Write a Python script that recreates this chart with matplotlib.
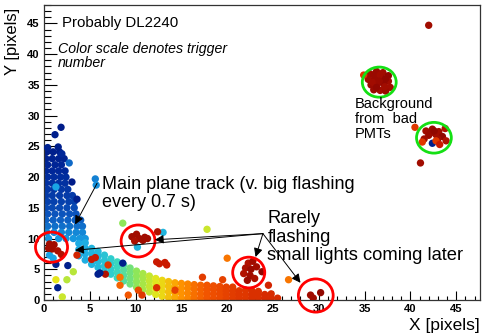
import matplotlib
matplotlib.use("Agg")
import matplotlib.pyplot as plt
from matplotlib.patches import Ellipse
from matplotlib.ticker import MultipleLocator
from matplotlib.colors import LinearSegmentedColormap

plt.rcParams["font.family"] = ["Liberation Sans", "DejaVu Sans"]

# colour value = trigger number scaled to 0..1 (ROOT-like rainbow palette)
palette = ["#000c70", "#00289a", "#0d5ac0", "#19a6e6", "#33d6c8", "#8ce65a",
           "#e6e619", "#ff9900", "#f25500", "#cc1a00", "#7a0000"]

# vertical part of the main track, read row by row
band_row_y = [24.1, 23.0, 22.0, 21.0, 20.0, 19.0, 18.0, 17.0, 16.0, 15.0, 14.0, 13.0, 12.0, 11.0, 10.0]
band_row_x = [
    [0.3, 1.0, 1.7],
    [0.2, 0.9, 1.6, 2.2],
    [0.4, 1.2, 1.9],
    [0.2, 0.9, 1.6, 2.3],
    [0.4, 1.1, 1.8, 2.4],
    [0.2, 0.9, 1.6, 2.3],
    [0.4, 1.1, 1.9, 2.6],
    [0.2, 0.9, 1.7, 2.5, 3.1],
    [0.4, 1.1, 1.9, 2.7, 3.3],
    [0.2, 0.9, 1.7, 2.5, 3.3],
    [0.4, 1.2, 2.0, 2.8, 3.5],
    [0.2, 1.0, 1.8, 2.6, 3.4, 4.0],
    [0.4, 1.2, 2.0, 2.8, 3.6, 4.2],
    [0.3, 1.1, 1.9, 2.7, 3.5, 4.2],
    [0.5, 1.6, 2.4, 3.2, 3.9, 4.5],
]
band_row_c = [0.07, 0.08, 0.09, 0.10, 0.11, 0.12, 0.13, 0.14, 0.15, 0.17, 0.19, 0.21, 0.23, 0.26, 0.28]

# curved part of the main track, read column by column
track_col_x = [3.8, 4.5, 5.2, 5.9, 6.6, 7.3, 8.0, 8.7, 9.4, 10.1, 10.8, 11.5, 12.2, 12.9, 13.6, 14.3,
               15.0, 15.7, 16.4, 17.1, 17.8, 18.5, 19.2, 19.9, 20.6, 21.3, 22.0, 22.7, 23.4, 24.1, 24.8, 25.5]
track_col_y = [
    [9.2, 8.2, 7.2],
    [9.3, 8.4, 7.5, 6.5],
    [8.4, 7.6, 6.7, 5.8],
    [7.9, 7.1, 6.2, 5.3],
    [7.3, 6.4, 5.5, 4.6],
    [6.7, 5.9, 5.0, 4.2],
    [6.2, 5.4, 4.5, 3.6],
    [5.7, 4.9, 4.0, 3.1],
    [5.2, 4.4, 3.5, 2.6],
    [4.7, 3.9, 3.0, 2.1],
    [4.3, 3.5, 2.6, 1.7],
    [3.9, 3.1, 2.2, 1.3],
    [3.5, 2.7, 1.8, 0.9],
    [3.2, 2.4, 1.5, 0.6],
    [3.0, 2.2, 1.3, 0.4],
    [2.8, 2.0, 1.2, 0.4],
    [2.7, 1.9, 1.1, 0.3],
    [2.6, 1.9, 1.1, 0.3],
    [2.5, 1.8, 1.0, 0.3],
    [2.4, 1.7, 1.0, 0.3],
    [2.4, 1.7, 1.0, 0.3],
    [2.3, 1.7, 1.0, 0.3],
    [2.2, 1.6, 1.0, 0.3],
    [2.1, 1.5, 0.9, 0.3],
    [2.1, 1.5, 0.9, 0.3],
    [1.5, 0.9, 0.3],
    [1.6, 0.9, 0.3],
    [1.5, 0.9, 0.3],
    [1.4, 0.9, 0.3],
    [0.9, 0.3],
    [1.0, 0.3],
    [0.3],
]
track_col_c = [0.31, 0.32, 0.33, 0.34, 0.36, 0.38, 0.41, 0.44, 0.47, 0.50, 0.53, 0.56, 0.59, 0.62, 0.65, 0.68,
               0.71, 0.73, 0.76, 0.78, 0.80, 0.81, 0.82, 0.83, 0.84, 0.85, 0.85, 0.86, 0.86, 0.87, 0.87, 0.87]

# isolated hits around the track
stray_x = [1.86, 1.2, 0.4, 1.55, 1.95, 2.75, 3.05, 3.6, 5.6, 5.7, 1.3,
           8.6, 17.8, 13.0, 12.4, 1.0, 0.6, 1.3, 2.6, 3.2, 1.3, 1.5, 2.0, 2.5,
           3.6, 5.2, 5.6, 5.9, 6.7, 7.0, 8.6, 8.3, 8.3, 6.1, 10.2,
           12.3, 12.6, 13.2, 13.4, 12.3, 14.3, 17.3, 19.5, 20.0, 24.5, 26.7, 9.2, 10.3, 10.7]
stray_y = [28.1, 26.9, 24.8, 24.9, 23.8, 22.3, 19.2, 16.4, 19.7, 18.7, 18.4,
           12.5, 11.5, 11.0, 11.1, 6.8, 7.3, 5.8, 5.6, 4.6, 3.3, 2.0, 0.5, 3.3,
           7.3, 6.6, 6.9, 4.2, 4.2, 5.7, 6.0, 3.7, 2.4, 4.4, 8.6,
           6.2, 5.9, 6.1, 5.7, 2.0, 1.6, 3.7, 3.3, 6.8, 2.4, 3.3, 0.8, 1.6, 0.8]
stray_c = [0.06, 0.07, 0.08, 0.07, 0.10, 0.22, 0.06, 0.07, 0.25, 0.27, 0.30,
           0.50, 0.57, 0.33, 0.93, 0.30, 0.30, 0.07, 0.07, 0.55, 0.60, 0.07, 0.57, 0.55,
           0.88, 0.90, 0.90, 0.07, 0.93, 0.85, 0.07, 0.75, 0.78, 0.07, 0.33,
           0.90, 0.90, 0.90, 0.90, 0.86, 0.83, 0.84, 0.83, 0.75, 0.88, 0.75, 0.80, 0.82, 0.85]

# late small flashes (red circles)
flash_x = [0.6, 1.1, 0.9, 1.5, 1.9, 0.5,
           9.6, 10.1, 10.4, 11.0, 10.8, 9.9, 11.3,
           22.3, 22.8, 22.0, 22.6, 23.2, 21.8, 22.5, 23.0, 22.2, 23.8,
           29.1, 30.2, 29.4]
flash_y = [9.1, 9.0, 8.3, 8.0, 7.4, 8.4,
           10.3, 10.7, 10.0, 10.2, 9.7, 9.6, 10.0,
           6.0, 6.3, 5.2, 5.0, 5.4, 4.3, 4.0, 3.5, 3.2, 4.6,
           0.8, 1.2, 0.3]
flash_c = [0.95, 0.95, 0.95, 0.94, 0.93, 0.95,
           0.95, 0.95, 0.95, 0.95, 0.95, 0.94, 0.95,
           0.93, 0.95, 0.94, 0.96, 0.95, 0.93, 0.95, 0.94, 0.96, 0.97,
           0.95, 0.97, 0.95]

# background from bad PMTs (green circles)
bg_x = [35.6, 36.3, 37.0, 37.6, 35.4, 36.1, 36.8, 37.6, 35.7, 36.4, 37.1, 37.8, 36.0, 36.7, 37.3, 34.9,
        36.0, 36.7, 37.3, 35.9, 36.6, 37.2, 36.3,
        42.0, 41.7, 42.4, 43.1, 43.8, 42.0, 42.8, 43.5, 41.5, 43.9, 42.2, 43.0, 42.6,
        42.4, 42.8, 43.2, 41.3, 40.5, 41.1]
bg_y = [36.8, 37.2, 37.0, 36.5, 35.9, 36.0, 36.2, 35.6, 35.0, 35.1, 35.2, 34.6, 34.2, 34.1, 34.0, 36.6,
        36.6, 36.6, 36.0, 35.4, 35.6, 34.7, 34.6,
        44.7, 27.5, 27.8, 27.4, 27.9, 26.8, 26.9, 26.6, 26.2, 25.9, 27.2, 26.2, 27.5,
        25.5, 25.9, 25.3, 25.7, 28.1, 22.3]
bg_c = [0.95, 0.96, 0.95, 0.97, 0.95, 0.96, 0.97, 0.95, 0.96, 0.95, 0.97, 0.95, 0.96, 0.95, 0.96, 0.85,
        0.96, 0.95, 0.97, 0.95, 0.96, 0.95, 0.97,
        0.95, 0.95, 0.96, 0.95, 0.93, 0.96, 0.95, 0.97, 0.95, 0.93, 0.96, 0.95, 0.97,
        0.07, 0.85, 0.90, 0.85, 0.85, 0.95]

# expand row / column readings into point lists
track_x, track_y, track_c = [], [], []
for yy, xs, cc in zip(band_row_y, band_row_x, band_row_c):
    for xx in xs:
        track_x.append(xx)
        track_y.append(yy)
        track_c.append(cc)
for xx, ys, cc in zip(track_col_x, track_col_y, track_col_c):
    for yy in ys:
        track_x.append(xx)
        track_y.append(yy)
        track_c.append(cc)

cmap = LinearSegmentedColormap.from_list("rootrainbow", palette)

fig = plt.figure(figsize=(4.88, 3.33), dpi=100)
ax = fig.add_axes([44 / 488, 33 / 333, 436 / 488, 295 / 333])

kw = dict(s=28, cmap=cmap, vmin=0, vmax=1, edgecolors="none")
ax.scatter(track_x, track_y, c=track_c, **kw, zorder=2)
ax.scatter(stray_x, stray_y, c=stray_c, **kw, zorder=3)
ax.scatter(flash_x, flash_y, c=flash_c, **kw, zorder=3)
ax.scatter(bg_x, bg_y, c=bg_c, **kw, zorder=3)

ax.set_xlim(0, 47.6)
ax.set_ylim(0, 48)
ax.xaxis.set_major_locator(MultipleLocator(5))
ax.xaxis.set_minor_locator(MultipleLocator(1))
ax.yaxis.set_major_locator(MultipleLocator(5))
ax.yaxis.set_minor_locator(MultipleLocator(1))
ax.tick_params(axis="x", which="major", direction="in", length=6.5, width=0.8, pad=3, labelsize=8)
ax.tick_params(axis="x", which="minor", direction="in", length=3.2, width=0.8)
ax.tick_params(axis="y", which="major", direction="in", length=9.4, width=0.8, pad=3, labelsize=8)
ax.tick_params(axis="y", which="minor", direction="in", length=4.7, width=0.8)
for lab in ax.get_xticklabels() + ax.get_yticklabels():
    lab.set_fontweight("bold")
for sp in ax.spines.values():
    sp.set_linewidth(0.9)
    sp.set_color("#333333")

# circles around the features
for cx, cy, w, h in [(0.82, 8.6, 3.5, 4.9), (10.27, 9.6, 3.7, 5.2), (22.35, 4.47, 3.5, 5.0), (29.67, 0.73, 3.8, 5.4)]:
    ax.add_patch(Ellipse((cx, cy), w, h, fill=False, ec="red", lw=2, clip_on=False, zorder=5))
for cx, cy, w, h in [(36.6, 35.45, 3.7, 4.9), (42.57, 26.4, 3.8, 5.0)]:
    ax.add_patch(Ellipse((cx, cy), w, h, fill=False, ec="#14e014", lw=2, clip_on=False, zorder=5))

arrow = dict(arrowstyle="-|>", color="black", lw=0.7, shrinkA=0, shrinkB=0, mutation_scale=13)
ax.annotate("", xy=(3.4, 12.3), xytext=(5.8, 19.0), arrowprops=arrow, zorder=6)
for tip in [(3.4, 8.1), (12.1, 9.8), (23.1, 7.0), (28.0, 2.8)]:
    ax.annotate("", xy=tip, xytext=(23.9, 10.8), arrowprops=arrow, zorder=6)

# multi-line texts are placed by the baseline of their last line
ax.text(2.0, 44.4, "Probably DL2240", fontsize=10.8, va="baseline", zorder=7)
ax.text(1.53, 37.9, "Color scale denotes trigger\nnumber", fontsize=10.2, style="italic",
        va="baseline", linespacing=1.05, zorder=7)
ax.text(6.34, 15.1, "Main plane track (v. big flashing\nevery 0.7 s)", fontsize=13,
        va="baseline", linespacing=1.1, zorder=7)
ax.text(24.4, 6.5, "Rarely\nflashing\nsmall lights coming later", fontsize=13.2,
        va="baseline", linespacing=1.1, zorder=7)
ax.text(33.9, 26.3, "Background\nfrom  bad\nPMTs", fontsize=10.5,
        va="baseline", linespacing=1.1, zorder=7)

fig.text(12 / 488, 1 - 8 / 333, "Y [pixels]", rotation=90, ha="center", va="top", fontsize=12)
fig.text(480 / 488, 1 - 330 / 333, "X [pixels]", ha="right", va="baseline", fontsize=12.5)

fig.savefig("out.png", dpi=100)
